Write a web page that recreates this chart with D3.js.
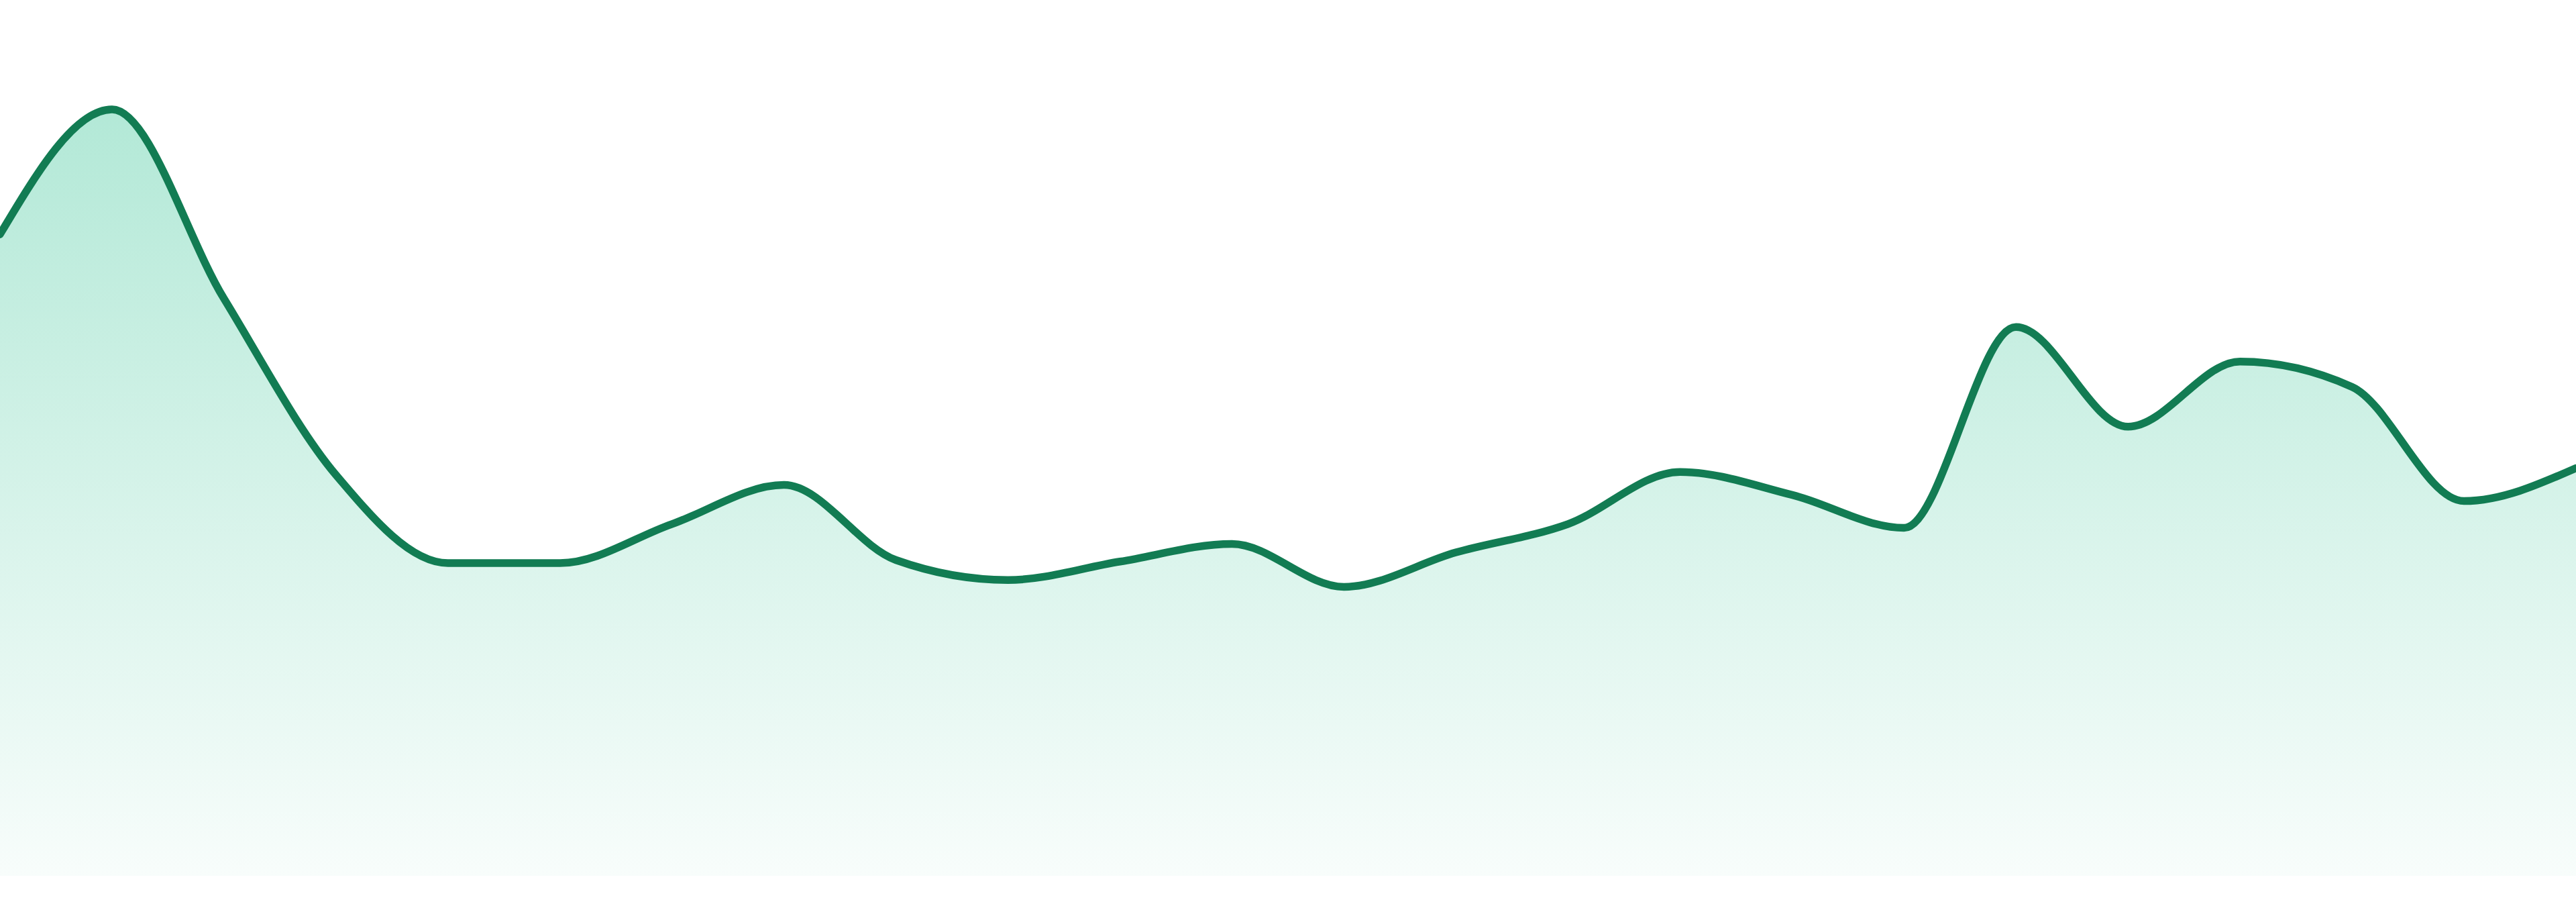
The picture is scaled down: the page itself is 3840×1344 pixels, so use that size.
<!DOCTYPE html>
<html>
<head>
<meta charset="utf-8">
<script src="https://cdn.jsdelivr.net/npm/d3@7"></script>
<style>
  html, body { margin: 0; padding: 0; background: #ffffff; overflow: hidden; }
  svg { display: block; }
</style>
</head>
<body>
<svg id="chart" width="3840" height="1344"></svg>
<script>
// ---- data ----
const categories = d3.range(1, 25).map(d => "P" + d);
const values = [83.7, 100, 75.3, 52.3, 40.8, 40.8, 45.9, 51.0, 41.2, 38.6, 41.0, 43.3,
                37.7, 42.2, 45.9, 52.7, 49.7, 45.4, 71.6, 58.6, 67.1, 63.8, 48.9, 53.2];

// ---- layout ----
const W = 3840, H = 1344;
const margin = { top: 163, right: 0, bottom: 39, left: 0 };

const svg = d3.select("#chart");

const x = d3.scalePoint()
  .domain(categories)
  .range([margin.left, W - margin.right]);

const y = d3.scaleLinear()
  .domain([0, 100])
  .range([H - margin.bottom, margin.top]);

const data = categories.map((c, i) => ({ c, v: values[i] }));

const defs = svg.append("defs");
const grad = defs.append("linearGradient")
  .attr("id", "areaGrad")
  .attr("x1", 0).attr("y1", 0).attr("x2", 0).attr("y2", 1);
grad.append("stop").attr("offset", "0%").attr("stop-color", "#10b981").attr("stop-opacity", 0.32);
grad.append("stop").attr("offset", "100%").attr("stop-color", "#10b981").attr("stop-opacity", 0.03);

const area = d3.area()
  .x(d => x(d.c))
  .y0(y(0))
  .y1(d => y(d.v))
  .curve(d3.curveMonotoneX);

const line = d3.line()
  .x(d => x(d.c))
  .y(d => y(d.v))
  .curve(d3.curveMonotoneX);

svg.append("path")
  .datum(data)
  .attr("d", area)
  .attr("fill", "url(#areaGrad)");

svg.append("path")
  .datum(data)
  .attr("d", line)
  .attr("fill", "none")
  .attr("stroke", "#127c53")
  .attr("stroke-width", 11.5)
  .attr("stroke-linejoin", "round")
  .attr("stroke-linecap", "round");
</script>
</body>
</html>
